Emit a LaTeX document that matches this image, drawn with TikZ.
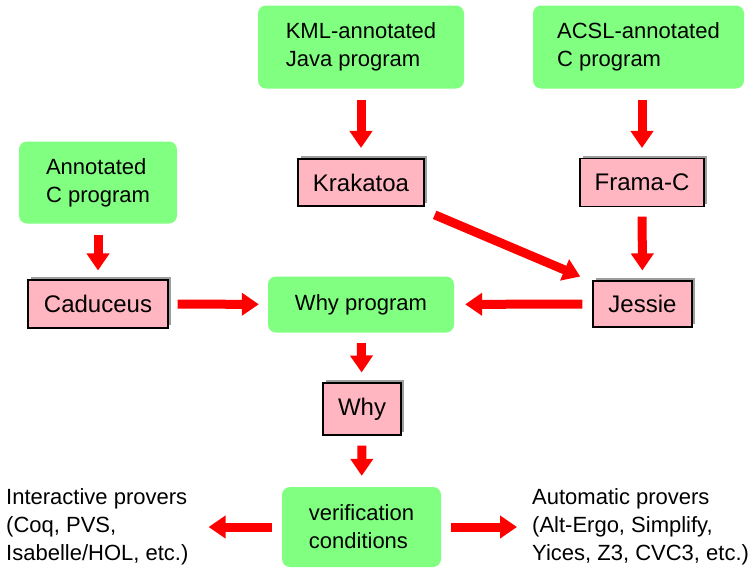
\documentclass[tikz,border=0pt]{standalone}
\usepackage{fontspec}
\setmainfont{Liberation Sans}
\usetikzlibrary{arrows.meta,shadows}
\definecolor{boxgreen}{HTML}{80FF80}
\definecolor{boxpink}{HTML}{FFB6C1}
\definecolor{arrred}{HTML}{FF0000}
\tikzset{
  greenbox/.style={fill=boxgreen, rounded corners=8pt, inner sep=0pt, align=left,
    font=\fontsize{22}{28}\selectfont},
  pinkbox/.style={draw=black, line width=1.1pt, fill=boxpink, inner sep=0pt,
    font=\fontsize{24}{28}\selectfont,
    general shadow={fill=black!38, shadow xshift=3pt, shadow yshift=3pt}},
  plaintext/.style={inner sep=0pt, align=left, font=\fontsize{22}{28}\selectfont},
  bigarrow/.style={draw=arrred, line width=9pt, -{Triangle[width=22pt,length=17pt]}}
}
\begin{document}
\begin{tikzpicture}[x=1pt,y=-1pt]
\useasboundingbox (0,0) rectangle (754,568);
% green boxes
\node[greenbox, minimum width=206pt, minimum height=83pt] (kml) at (361,47) {KML-annotated\\Java program};
\node[greenbox, minimum width=211pt, minimum height=83pt] (acsl) at (638.5,47) {ACSL-annotated\\C program};
\node[greenbox, minimum width=158pt, minimum height=82pt] (annc) at (98,182.5) {Annotated\\C program};
\node[greenbox, minimum width=186pt, minimum height=56pt] (whyp) at (361,304.5) {Why program};
\node[greenbox, minimum width=159pt, minimum height=80pt] (vc) at (361.5,527) {verification\\conditions};
% pink boxes
\node[pinkbox, minimum width=126pt, minimum height=47pt] (krak) at (361,182.5) {Krakatoa};
\node[pinkbox, minimum width=124pt, minimum height=48pt] (frama) at (642,182.5) {Frama-C};
\node[pinkbox, minimum width=140pt, minimum height=48pt] (cad) at (98,304) {Caduceus};
\node[pinkbox, minimum width=99pt, minimum height=46pt] (jessie) at (642.5,304) {Jessie};
\node[pinkbox, minimum width=78pt, minimum height=52pt] (why) at (362,409) {Why};
% plain texts
\node[plaintext, anchor=west] (inter) at (6,527) {Interactive provers\\(Coq, PVS,\\Isabelle/HOL, etc.)};
\node[plaintext, anchor=west] (auto) at (532,527) {Automatic provers\\(Alt-Ergo, Simplify,\\Yices, Z3, CVC3, etc.)};
% arrows
\draw[bigarrow, shorten <=11.5pt, shorten >=10.5pt] (kml) -- (krak);
\draw[bigarrow, shorten <=11pt, shorten >=10pt] (acsl.south -| frama.north) -- (frama);
\draw[bigarrow, shorten <=11.5pt, shorten >=9pt] (annc) -- (cad);
\draw[bigarrow, shorten <=9.5pt, shorten >=10pt] (frama) -- (jessie);
\draw[bigarrow, shorten <=11pt, shorten >=10pt] ([yshift=-4pt]krak.south east) -- ([xshift=-3pt]jessie.north west);
\draw[bigarrow, shorten <=10pt, shorten >=11pt] (jessie) -- (whyp);
\draw[bigarrow, shorten <=9pt, shorten >=9pt] (cad) -- (whyp);
\draw[bigarrow, shorten <=10.5pt, shorten >=10pt] (whyp) -- (why);
\draw[bigarrow, shorten <=10pt, shorten >=11pt] (why) -- (vc);
\draw[bigarrow, shorten <=10pt, shorten >=20pt] (vc) -- (inter.east |- vc.west);
\draw[bigarrow, shorten <=10pt, shorten >=15pt] (vc) -- (auto.west |- vc.east);
\end{tikzpicture}
\end{document}
